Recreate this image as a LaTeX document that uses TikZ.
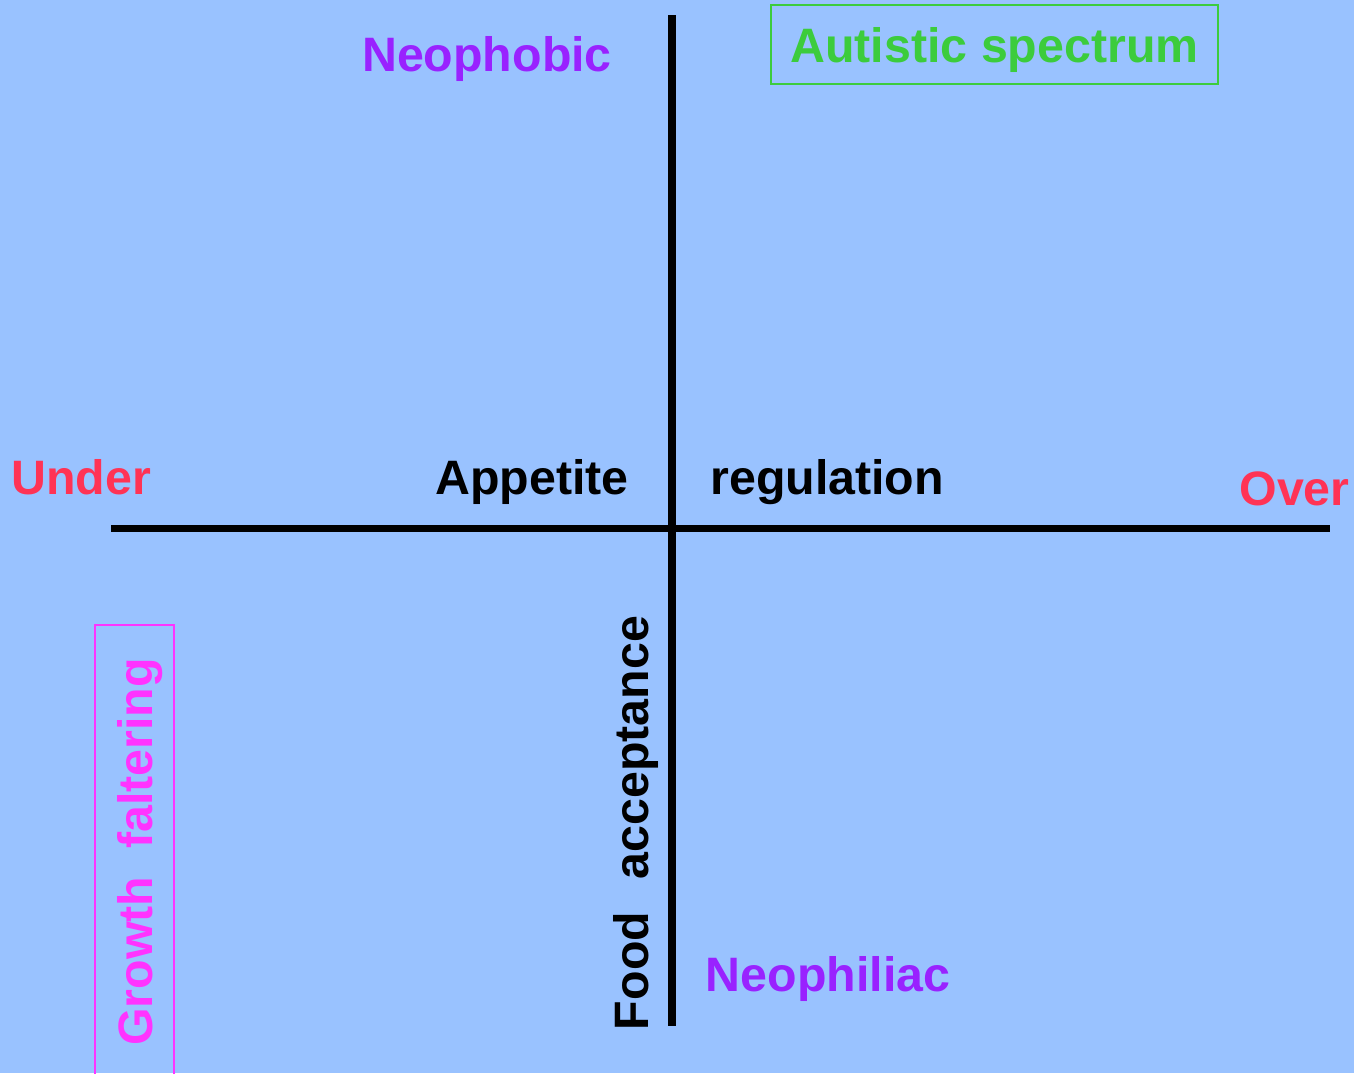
\documentclass[tikz,border=0pt]{standalone}
\usepackage{fontspec}
\setmainfont{Liberation Sans}
\usetikzlibrary{positioning}

\definecolor{bgblue}{RGB}{153,194,255}
\definecolor{labred}{RGB}{255,51,85}
\definecolor{labpurple}{RGB}{153,34,255}
\definecolor{labgreen}{RGB}{60,204,60}
\definecolor{labpink}{RGB}{255,51,255}

\tikzset{
  axis/.style={line width=4pt,black},
  lab/.style={font=\fontsize{27.5}{32}\selectfont\bfseries,inner sep=0pt},
  tagbox/.style={draw,line width=1.1pt,inner sep=0pt,text depth=0pt}
}

\begin{document}
\begin{tikzpicture}[x=0.02cm,y=-0.02cm]
\fill[bgblue] (0,0) rectangle (1354,1073);
\useasboundingbox (0,0) rectangle (1354,1073);
% axes
\coordinate (top) at (672,15);
\coordinate (bottom) at (672,1026);
\coordinate (left) at (111,528);
\coordinate (right) at (1330,528);
\draw[axis] (left) -- (right);
\draw[axis] (top) -- (bottom);
% labels
\node (neophobic) [lab,labpurple] at (487,59) {Neophobic};
\node (neophiliac) [lab,labpurple] at (828,979) {Neophiliac};
\node (under) [lab,labred,anchor=base west] at (11,494) {Under};
\node (over) [lab,labred,anchor=base east] at (1350,505) {Over};
\node (appetite) [lab,anchor=base east] at (629,494) {Appetite};
\node (regulation) [lab,anchor=base west] at (710,494) {regulation};
\node (food) [lab,rotate=90] at (636,823) {Food\hspace{0.4em} acceptance};
\node (autistic) [lab,labgreen,tagbox,minimum width=8.94cm,minimum height=1.58cm] at (994.5,44.5) {Autistic spectrum};
\node (growth) [lab,labpink,tagbox,rotate=90,minimum width=9.1cm,minimum height=1.58cm] at (134.5,852) {Growth\hspace{0.3em} faltering};
\end{tikzpicture}
\end{document}
